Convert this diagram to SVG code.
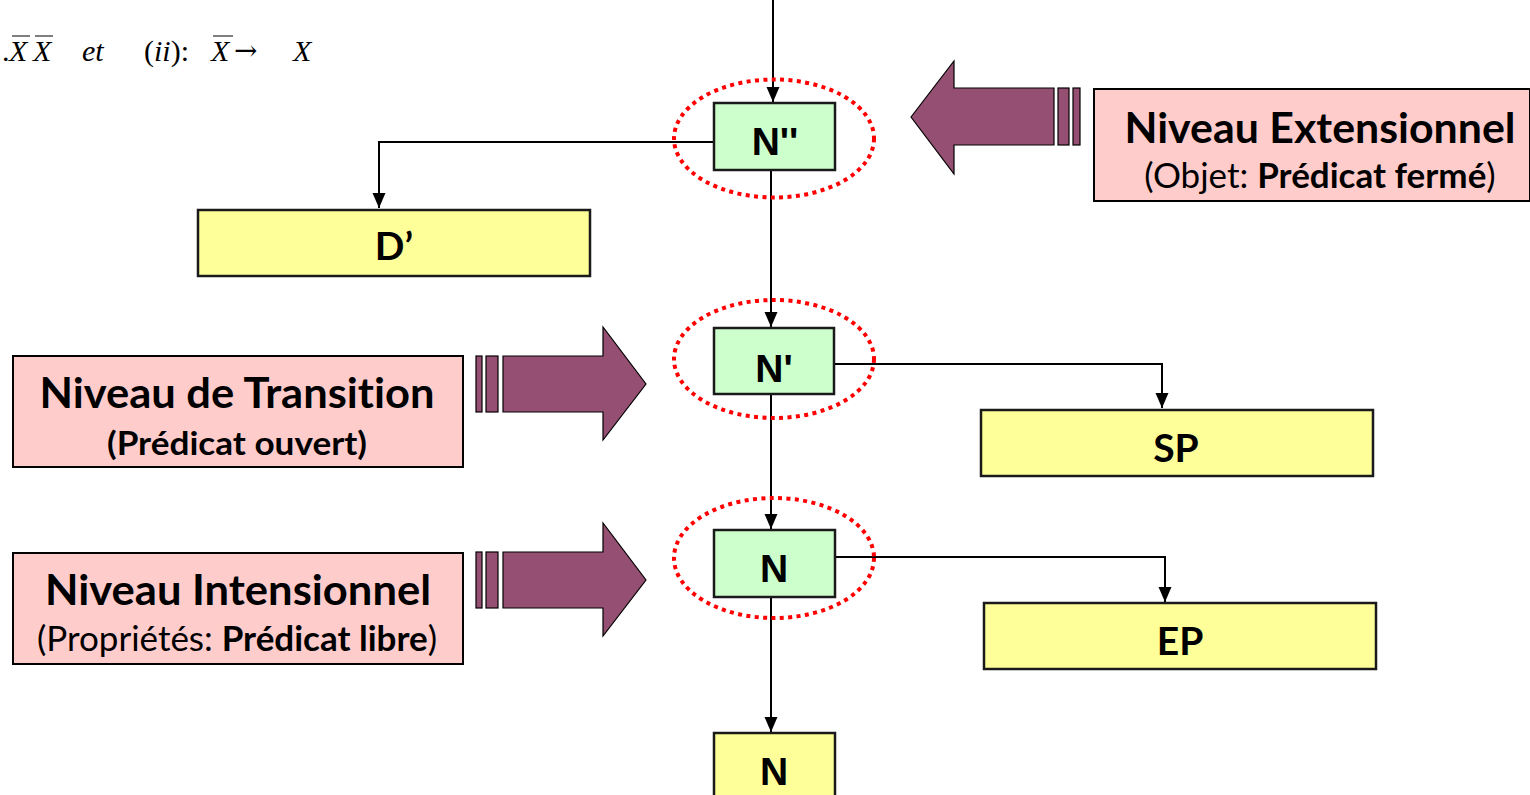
<svg xmlns="http://www.w3.org/2000/svg" width="1530" height="795" viewBox="0 0 1530 795">
<style>
.pink{fill:#FFCCCC;stroke:#000;stroke-width:2}
.green{fill:#CCFFCC;stroke:#1a1a1a;stroke-width:2.5}
.yellow{fill:#FFFF99;stroke:#1a1a1a;stroke-width:2.5}
.big{fill:#954F72;stroke:#000;stroke-width:1.2}
.ell{fill:none;stroke:#FF0000;stroke-width:4;stroke-dasharray:4 4.4}
.conn{fill:none;stroke:#000;stroke-width:2}
.lbl{font-family:Lato,"Open Sans",sans-serif;font-weight:bold;fill:#000;text-anchor:middle;font-variant-ligatures:none}
.sub{font-family:Lato,"Open Sans",sans-serif;fill:#000;text-anchor:middle;font-variant-ligatures:none}
.nd{font-family:"Liberation Sans",Arial,sans-serif;font-weight:bold;font-size:39px;fill:#000;text-anchor:middle}
.math{font-family:"Liberation Serif","Times New Roman",serif;font-size:30px;fill:#000}
</style>
<defs>
<marker id="ah" markerUnits="userSpaceOnUse" markerWidth="16" markerHeight="16" viewBox="0 0 16 16" refX="15" refY="8" orient="auto">
<path d="M0,1.5 L15,8 L0,14.5 Z" fill="#000"/>
</marker>
</defs>
<rect width="1530" height="795" fill="#fff"/>

<g id="formula" class="math">
<text x="2" y="61">.</text>
<text x="9" y="61" font-style="italic">X</text>
<text x="33" y="61" font-style="italic">X</text>
<text x="82" y="61" font-style="italic">et</text>
<text x="144" y="61">(<tspan font-style="italic">ii</tspan>):</text>
<text x="211" y="61" font-style="italic">X</text>
<text x="234" y="60" font-family="'DejaVu Serif',serif" font-size="28">→</text>
<text x="293" y="61" font-style="italic">X</text>
<path d="M12,36 H30 M35,36 H53 M213,36 H233" stroke="#000" stroke-width="1.2"/>
</g>

<g id="connectors">
<path class="conn" d="M773,0 V102" marker-end="url(#ah)"/>
<path class="conn" d="M714,142 H379 V208" marker-end="url(#ah)"/>
<path class="conn" d="M771,171 V327" marker-end="url(#ah)"/>
<path class="conn" d="M834,364 H1162 V408" marker-end="url(#ah)"/>
<path class="conn" d="M771,395 V529" marker-end="url(#ah)"/>
<path class="conn" d="M835,557 H1165 V602" marker-end="url(#ah)"/>
<path class="conn" d="M771,598 V732" marker-end="url(#ah)"/>
</g>

<g id="arrow-ext">
<polygon class="big" points="911,117 954,61 954,88 1054,88 1054,145 954,145 954,174"/>
<rect class="big" x="1058" y="88" width="11" height="57"/>
<rect class="big" x="1073" y="88" width="7" height="57"/>
</g>
<g id="arrow-trans">
<rect class="big" x="476" y="356" width="6" height="56"/>
<rect class="big" x="486" y="356" width="12" height="56"/>
<polygon class="big" points="503,356 603,356 603,327 646,384 603,440 603,412 503,412"/>
</g>
<g id="arrow-int">
<rect class="big" x="476" y="552" width="6" height="56"/>
<rect class="big" x="486" y="552" width="12" height="56"/>
<polygon class="big" points="503,552 603,552 603,523 646,580 603,636 603,608 503,608"/>
</g>

<g id="niveau-extensionnel">
<rect class="pink" x="1094" y="89" width="436" height="112"/>
<text class="lbl" x="1320" y="143" font-size="42" textLength="391" lengthAdjust="spacingAndGlyphs">Niveau Extensionnel</text>
<text class="sub" x="1320" y="188" font-size="35">(Objet: <tspan font-weight="bold">Prédicat fermé</tspan>)</text>
</g>
<g id="niveau-transition">
<rect class="pink" x="13" y="356" width="450" height="111"/>
<text class="lbl" x="237" y="408" font-size="42" textLength="395" lengthAdjust="spacingAndGlyphs">Niveau de Transition</text>
<text class="lbl" x="237" y="455" font-size="33" textLength="260" lengthAdjust="spacingAndGlyphs">(Prédicat ouvert)</text>
</g>
<g id="niveau-intensionnel">
<rect class="pink" x="13" y="553" width="450" height="111"/>
<text class="lbl" x="238" y="605" font-size="42" textLength="386" lengthAdjust="spacingAndGlyphs">Niveau Intensionnel</text>
<text class="sub" x="237" y="651" font-size="35">(Propriétés: <tspan font-weight="bold">Prédicat libre</tspan>)</text>
</g>

<g id="node-N2">
<ellipse class="ell" cx="774" cy="138.5" rx="100" ry="59"/>
<rect class="green" x="714" y="103" width="121" height="67"/>
<text class="nd" x="775" y="155">N''</text>
</g>
<g id="node-D">
<rect class="yellow" x="198" y="210" width="392" height="66"/>
<text class="lbl" x="394" y="260" font-size="39">D’</text>
</g>
<g id="node-N1">
<ellipse class="ell" cx="774" cy="359" rx="100" ry="59"/>
<rect class="green" x="714" y="328" width="120" height="66"/>
<text class="nd" x="774" y="382">N'</text>
</g>
<g id="node-SP">
<rect class="yellow" x="981" y="410" width="392" height="66"/>
<text class="lbl" x="1176" y="462" font-size="39">SP</text>
</g>
<g id="node-N0">
<ellipse class="ell" cx="774" cy="558" rx="100" ry="60"/>
<rect class="green" x="714" y="530" width="121" height="67"/>
<text class="nd" x="774" y="582">N</text>
</g>
<g id="node-EP">
<rect class="yellow" x="984" y="603" width="392" height="66"/>
<text class="lbl" x="1180" y="655" font-size="39">EP</text>
</g>
<g id="node-N">
<rect class="yellow" x="714" y="733" width="121" height="70"/>
<text class="nd" x="774" y="785">N</text>
</g>
</svg>
